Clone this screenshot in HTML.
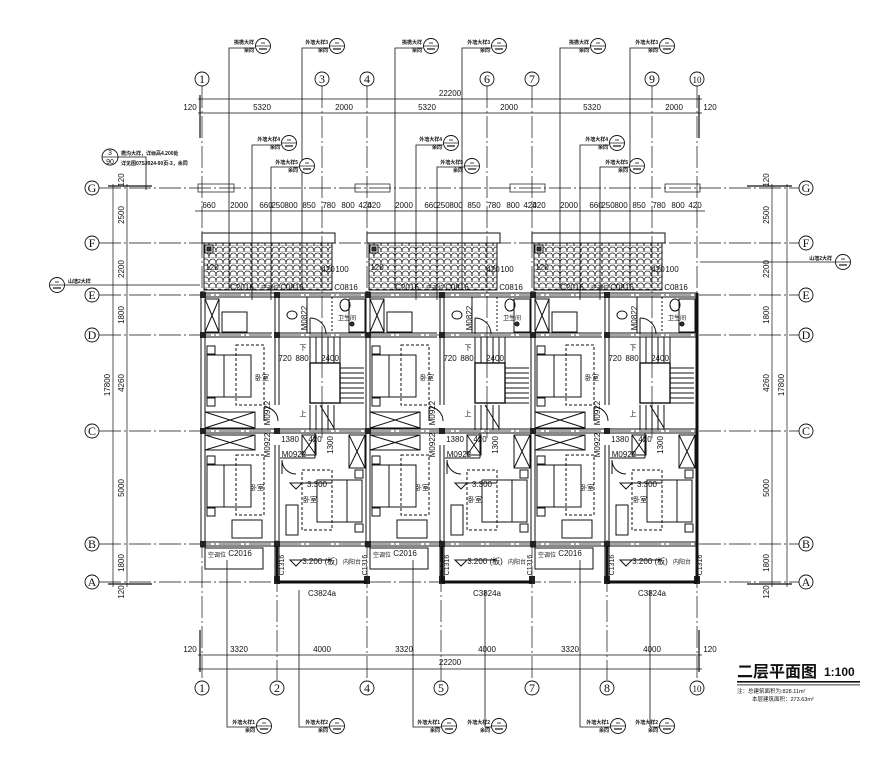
<!DOCTYPE html>
<html><head><meta charset="utf-8"><style>
html,body{margin:0;padding:0;background:#fff;}
svg{display:block;font-family:"Liberation Sans","Noto Sans CJK SC",sans-serif;}
</style></head><body>
<svg width="896" height="759" viewBox="0 0 896 759" xmlns="http://www.w3.org/2000/svg">
<defs>
<pattern id="tile" width="7" height="6" patternUnits="userSpaceOnUse">
<path d="M0 6 Q0 1 3.5 1 Q7 1 7 6" fill="none" stroke="#222" stroke-width="0.7"/>
<line x1="0" y1="6" x2="7" y2="6" stroke="#222" stroke-width="0.5"/>
</pattern>
<g id="unit" stroke="#111" fill="none" stroke-width="1">
  <rect x="0" y="233" width="133" height="10" />
  <rect x="2" y="243" width="128" height="47" fill="url(#tile)"/>
  <rect x="3" y="245" width="8" height="8" fill="#fff"/>
  <rect x="5" y="247" width="4" height="4" fill="#333"/>
  <rect x="-1" y="292" width="4" height="255" fill="#fff"/>
  <line x1="0" y1="293" x2="165" y2="293"/><line x1="0" y1="297" x2="165" y2="297"/>
  <line x1="0" y1="429" x2="165" y2="429"/><line x1="0" y1="433" x2="165" y2="433"/>
  <line x1="0" y1="542" x2="165" y2="542"/><line x1="0" y1="546" x2="165" y2="546"/>
  <line x1="3" y1="333" x2="70" y2="333"/><line x1="3" y1="337" x2="70" y2="337"/>
  <line x1="78" y1="333" x2="165" y2="333"/><line x1="78" y1="337" x2="165" y2="337"/>
  <line x1="73" y1="297" x2="73" y2="405"/><line x1="77" y1="297" x2="77" y2="405"/>
  <line x1="73" y1="445" x2="73" y2="582"/><line x1="77" y1="445" x2="77" y2="582"/>
  <line x1="105" y1="297" x2="105" y2="333" />
  <line x1="130" y1="297" x2="130" y2="333" stroke-dasharray="2 2"/>
  <g fill="#222" stroke="none">
   <rect x="-2" y="292" width="6" height="6"/><rect x="-2" y="332" width="6" height="6"/>
   <rect x="-2" y="428" width="6" height="6"/><rect x="-2" y="541" width="6" height="6"/>
   <rect x="72" y="292" width="6" height="6"/><rect x="72" y="332" width="6" height="6"/>
   <rect x="72" y="428" width="6" height="6"/><rect x="72" y="541" width="6" height="6"/>
   <rect x="72" y="576" width="6" height="8"/><rect x="162" y="576" width="6" height="8"/>
  </g>
  <line x1="75" y1="582" x2="165" y2="582" stroke-width="3"/>
  <line x1="75" y1="546" x2="75" y2="582" stroke-width="2.5"/>
  <rect x="3" y="548" width="58" height="21"/>
  <rect x="3" y="299" width="14" height="33"/><path d="M3 299 L17 332 M17 299 L3 332"/>
  <rect x="3" y="412" width="50" height="16"/><path d="M3 412 L53 428 M53 412 L3 428"/>
  <rect x="3" y="435" width="50" height="15"/><path d="M3 435 L53 450 M53 435 L3 450"/>
  <rect x="147" y="299" width="16" height="33"/>
  <rect x="147" y="435" width="16" height="33"/><path d="M147 435 L163 468 M163 435 L147 468"/>
  <rect x="20" y="312" width="25" height="20"/>
  <rect x="5" y="355" width="44" height="42"/><line x1="22" y1="355" x2="22" y2="397"/>
  <rect x="34" y="345" width="28" height="60" stroke-dasharray="3 2"/>
  <rect x="5" y="346" width="8" height="8"/><rect x="5" y="398" width="8" height="8"/>
  <rect x="5" y="465" width="44" height="42"/><line x1="22" y1="465" x2="22" y2="507"/>
  <rect x="34" y="455" width="28" height="60" stroke-dasharray="3 2"/>
  <rect x="5" y="456" width="8" height="8"/><rect x="5" y="508" width="8" height="8"/>
  <rect x="30" y="520" width="30" height="18"/>
  <rect x="115" y="480" width="45" height="42"/><line x1="145" y1="480" x2="145" y2="522"/>
  <rect x="100" y="470" width="30" height="60" stroke-dasharray="3 2"/>
  <rect x="153" y="470" width="8" height="8"/><rect x="153" y="524" width="8" height="8"/>
  <rect x="84" y="505" width="12" height="30"/>
  <rect x="108" y="363" width="30" height="40" stroke-width="1.4"/>
  <path d="M108 337 V363 M114 337 V363 M120 337 V363 M126 337 V363 M132 337 V363 M138 337 V363"/>
  <path d="M138 368 H162 M138 373 H162 M138 378 H162 M138 383 H162 M138 388 H162 M138 393 H162 M138 398 H162 M138 403 H162"/>
  <path d="M108 405 V430 M114 405 V430 M120 405 V430 M126 405 V430 M132 405 V430"/>
  <line x1="118" y1="405" x2="132" y2="428"/>
  <rect x="100" y="435" width="14" height="20"/>
  <path d="M100 435 L114 455 M114 435 L100 455"/>
  <line x1="78" y1="458" x2="113" y2="458"/><line x1="113" y1="433" x2="113" y2="458"/>
  <path d="M62 407 A14 14 0 0 1 76 421" /><line x1="62" y1="407" x2="62" y2="421"/>
  <path d="M80 460 A14 14 0 0 0 94 474"/><line x1="80" y1="460" x2="80" y2="474"/>
  <path d="M108 318 A16 16 0 0 1 124 334"/><line x1="108" y1="318" x2="108" y2="334"/>
  <ellipse cx="90" cy="315" rx="5" ry="4"/><ellipse cx="143" cy="305" rx="5" ry="6"/>
  <circle cx="150" cy="324" r="2" fill="#333"/>
  <path d="M88 483 L100 483 L94 489 Z"/><path d="M88 560 L100 560 L94 566 Z"/>
  <line x1="94" y1="483" x2="130" y2="483"/><line x1="94" y1="560" x2="130" y2="560"/>
</g>
<g id="cc"><circle r="7.5" fill="#fff" stroke="#111" stroke-width="0.9"/><line x1="-7.5" y1="0" x2="7.5" y2="0" stroke="#111" stroke-width="0.7"/><line x1="-2" y1="-3" x2="2" y2="-3" stroke="#111" stroke-width="0.8"/><line x1="-4" y1="3" x2="4" y2="3" stroke="#111" stroke-width="1.2"/></g>
</defs>

<g stroke="#111" stroke-width="0.7" fill="none">
  <g stroke-dasharray="22 3 2 3">
   <line x1="202" y1="86" x2="202" y2="680"/><line x1="277" y1="540" x2="277" y2="680"/>
   <line x1="322" y1="86" x2="322" y2="440"/><line x1="367" y1="86" x2="367" y2="680"/>
   <line x1="441" y1="540" x2="441" y2="680"/><line x1="487" y1="86" x2="487" y2="440"/>
   <line x1="532" y1="86" x2="532" y2="680"/><line x1="607" y1="540" x2="607" y2="680"/>
   <line x1="652" y1="86" x2="652" y2="440"/><line x1="697" y1="86" x2="697" y2="680"/>
  </g>
  <g stroke-dasharray="22 3 2 3">
   <line x1="99" y1="188" x2="799" y2="188"/><line x1="99" y1="243" x2="799" y2="243"/>
   <line x1="99" y1="295" x2="799" y2="295"/><line x1="99" y1="335" x2="799" y2="335"/>
   <line x1="99" y1="431" x2="799" y2="431"/><line x1="99" y1="544" x2="799" y2="544"/>
   <line x1="99" y1="582" x2="799" y2="582"/>
  </g>
  <line x1="198" y1="99" x2="702" y2="99"/><line x1="198" y1="113" x2="702" y2="113"/>
  <line x1="200" y1="95" x2="200" y2="138" stroke-width="1.2"/><line x1="699" y1="95" x2="699" y2="138" stroke-width="1.2"/>
  <line x1="198" y1="655" x2="702" y2="655"/><line x1="198" y1="669" x2="702" y2="669"/>
  <line x1="200" y1="630" x2="200" y2="672" stroke-width="1.2"/><line x1="699" y1="630" x2="699" y2="672" stroke-width="1.2"/>
  <line x1="113" y1="184" x2="113" y2="587"/><line x1="127" y1="184" x2="127" y2="587"/>
  <line x1="108" y1="186" x2="152" y2="186" stroke-width="1.2"/><line x1="108" y1="584" x2="152" y2="584" stroke-width="1.2"/>
  <line x1="772" y1="184" x2="772" y2="587"/><line x1="787" y1="184" x2="787" y2="587"/>
  <line x1="747" y1="186" x2="792" y2="186" stroke-width="1.2"/><line x1="747" y1="584" x2="792" y2="584" stroke-width="1.2"/>
  <line x1="195" y1="211" x2="705" y2="211"/>
  <rect x="198" y="184" width="36" height="8"/><rect x="355" y="184" width="35" height="8"/>
  <rect x="510" y="184" width="35" height="8"/><rect x="665" y="184" width="35" height="8"/>
</g>

<use href="#unit" x="202"/>
<use href="#unit" x="367"/>
<use href="#unit" x="532"/>
<g stroke="#111" fill="none"><line x1="697" y1="293" x2="697" y2="582" stroke-width="3"/></g>

<g stroke="#111" stroke-width="0.9" fill="#fff" font-size="12" text-anchor="middle">
 <g>
  <circle cx="202" cy="79" r="7"/><circle cx="322" cy="79" r="7"/><circle cx="367" cy="79" r="7"/>
  <circle cx="487" cy="79" r="7"/><circle cx="532" cy="79" r="7"/><circle cx="652" cy="79" r="7"/><circle cx="697" cy="79" r="7"/>
  <circle cx="202" cy="688" r="7"/><circle cx="277" cy="688" r="7"/><circle cx="367" cy="688" r="7"/>
  <circle cx="441" cy="688" r="7"/><circle cx="532" cy="688" r="7"/><circle cx="607" cy="688" r="7"/><circle cx="697" cy="688" r="7"/>
  <circle cx="92" cy="188" r="7"/><circle cx="92" cy="243" r="7"/><circle cx="92" cy="295" r="7"/><circle cx="92" cy="335" r="7"/>
  <circle cx="92" cy="431" r="7"/><circle cx="92" cy="544" r="7"/><circle cx="92" cy="582" r="7"/>
  <circle cx="806" cy="188" r="7"/><circle cx="806" cy="243" r="7"/><circle cx="806" cy="295" r="7"/><circle cx="806" cy="335" r="7"/>
  <circle cx="806" cy="431" r="7"/><circle cx="806" cy="544" r="7"/><circle cx="806" cy="582" r="7"/>
 </g>
 <g fill="#111" stroke="none" font-family="Liberation Serif, serif">
  <text x="202" y="83">1</text><text x="322" y="83">3</text><text x="367" y="83">4</text><text x="487" y="83">6</text>
  <text x="532" y="83">7</text><text x="652" y="83">9</text><text x="697" y="83" font-size="9">10</text>
  <text x="202" y="692">1</text><text x="277" y="692">2</text><text x="367" y="692">4</text><text x="441" y="692">5</text>
  <text x="532" y="692">7</text><text x="607" y="692">8</text><text x="697" y="692" font-size="9">10</text>
  <text x="92" y="192">G</text><text x="92" y="247">F</text><text x="92" y="299">E</text><text x="92" y="339">D</text>
  <text x="92" y="435">C</text><text x="92" y="548">B</text><text x="92" y="586">A</text>
  <text x="806" y="192">G</text><text x="806" y="247">F</text><text x="806" y="299">E</text><text x="806" y="339">D</text>
  <text x="806" y="435">C</text><text x="806" y="548">B</text><text x="806" y="586">A</text>
 </g>
</g>

<g font-size="8" fill="#111" text-anchor="middle">
 <text x="450" y="96">22200</text><text x="450" y="665">22200</text>
 <text x="190" y="110">120</text><text x="262" y="110">5320</text><text x="344" y="110">2000</text><text x="427" y="110">5320</text>
 <text x="509" y="110">2000</text><text x="592" y="110">5320</text><text x="674" y="110">2000</text><text x="710" y="110">120</text>
 <text x="190" y="652">120</text><text x="239" y="652">3320</text><text x="322" y="652">4000</text><text x="404" y="652">3320</text>
 <text x="487" y="652">4000</text><text x="570" y="652">3320</text><text x="652" y="652">4000</text><text x="710" y="652">120</text>
 <g transform="translate(110,385) rotate(-90)"><text>17800</text></g>
 <g transform="translate(124,180) rotate(-90)"><text>120</text></g>
 <g transform="translate(124,215) rotate(-90)"><text>2500</text></g>
 <g transform="translate(124,269) rotate(-90)"><text>2200</text></g>
 <g transform="translate(124,315) rotate(-90)"><text>1800</text></g>
 <g transform="translate(124,383) rotate(-90)"><text>4260</text></g>
 <g transform="translate(124,488) rotate(-90)"><text>5000</text></g>
 <g transform="translate(124,563) rotate(-90)"><text>1800</text></g>
 <g transform="translate(124,592) rotate(-90)"><text>120</text></g>
 <g transform="translate(784,385) rotate(-90)"><text>17800</text></g>
 <g transform="translate(769,180) rotate(-90)"><text>120</text></g>
 <g transform="translate(769,215) rotate(-90)"><text>2500</text></g>
 <g transform="translate(769,269) rotate(-90)"><text>2200</text></g>
 <g transform="translate(769,315) rotate(-90)"><text>1800</text></g>
 <g transform="translate(769,383) rotate(-90)"><text>4260</text></g>
 <g transform="translate(769,488) rotate(-90)"><text>5000</text></g>
 <g transform="translate(769,563) rotate(-90)"><text>1800</text></g>
 <g transform="translate(769,592) rotate(-90)"><text>120</text></g>
</g>

<g font-size="8" fill="#111" text-anchor="middle">
 <g transform="translate(202,0)">
  <text x="7" y="208">660</text><text x="37" y="208">2000</text><text x="64" y="208">660</text><text x="76" y="208">250</text><text x="89" y="208">800</text>
  <text x="107" y="208">850</text><text x="127" y="208">780</text><text x="146" y="208">800</text><text x="163" y="208">420</text>
  <text x="40" y="290">C2016</text><text x="68" y="290" font-size="6">空调位</text><text x="90" y="290">C0816</text><text x="144" y="290">C0816</text>
  <text x="10" y="270">120</text><text x="126" y="272">420</text><text x="140" y="272">100</text>
  <text x="145" y="320" font-size="6">卫生间</text>
  <g transform="translate(105,318) rotate(-90)"><text>M0822</text></g>
  <text x="101" y="350" font-size="7">下</text>
  <text x="83" y="361">720</text><text x="100" y="361">880</text><text x="128" y="361">2400</text>
  <text x="101" y="416" font-size="7">上</text>
  <text x="60" y="380" font-size="7">卧室</text><text x="55" y="490" font-size="7">卧室</text><text x="108" y="502" font-size="7">卧室</text>
  <g transform="translate(68,413) rotate(-90)"><text>M0922</text></g>
  <g transform="translate(68,445) rotate(-90)"><text>M0922</text></g>
  <text x="88" y="442">1380</text><text x="113" y="442">420</text>
  <g transform="translate(131,445) rotate(-90)"><text>1300</text></g>
  <text x="92" y="457">M0922</text>
  <text x="115" y="487">3.300</text>
  <text x="118" y="564">3.200 (板)</text><text x="150" y="564" font-size="6">内阳台</text>
  <text x="38" y="556">C2016</text><text x="15" y="557" font-size="6">空调位</text>
  <g transform="translate(82,565) rotate(-90)"><text font-size="7">C1316</text></g>
  <text x="120" y="596">C3824a</text>
 </g>
 <g transform="translate(367,0)">
  <text x="7" y="208">420</text><text x="37" y="208">2000</text><text x="64" y="208">660</text><text x="76" y="208">250</text><text x="89" y="208">800</text>
  <text x="107" y="208">850</text><text x="127" y="208">780</text><text x="146" y="208">800</text><text x="163" y="208">420</text>
  <text x="40" y="290">C2016</text><text x="68" y="290" font-size="6">空调位</text><text x="90" y="290">C0816</text><text x="144" y="290">C0816</text>
  <text x="10" y="270">120</text><text x="126" y="272">420</text><text x="140" y="272">100</text>
  <text x="145" y="320" font-size="6">卫生间</text>
  <g transform="translate(105,318) rotate(-90)"><text>M0822</text></g>
  <text x="101" y="350" font-size="7">下</text>
  <text x="83" y="361">720</text><text x="100" y="361">880</text><text x="128" y="361">2400</text>
  <text x="101" y="416" font-size="7">上</text>
  <text x="60" y="380" font-size="7">卧室</text><text x="55" y="490" font-size="7">卧室</text><text x="108" y="502" font-size="7">卧室</text>
  <g transform="translate(68,413) rotate(-90)"><text>M0922</text></g>
  <g transform="translate(68,445) rotate(-90)"><text>M0922</text></g>
  <text x="88" y="442">1380</text><text x="113" y="442">420</text>
  <g transform="translate(131,445) rotate(-90)"><text>1300</text></g>
  <text x="92" y="457">M0922</text>
  <text x="115" y="487">3.300</text>
  <text x="118" y="564">3.200 (板)</text><text x="150" y="564" font-size="6">内阳台</text>
  <text x="38" y="556">C2016</text><text x="15" y="557" font-size="6">空调位</text>
  <g transform="translate(82,565) rotate(-90)"><text font-size="7">C1316</text></g>
  <g transform="translate(0,565) rotate(-90)"><text font-size="7">C1316</text></g>
  <text x="120" y="596">C3824a</text>
 </g>
 <g transform="translate(532,0)">
  <text x="7" y="208">420</text><text x="37" y="208">2000</text><text x="64" y="208">660</text><text x="76" y="208">250</text><text x="89" y="208">800</text>
  <text x="107" y="208">850</text><text x="127" y="208">780</text><text x="146" y="208">800</text><text x="163" y="208">420</text>
  <text x="40" y="290">C2016</text><text x="68" y="290" font-size="6">空调位</text><text x="90" y="290">C0816</text><text x="144" y="290">C0816</text>
  <text x="10" y="270">120</text><text x="126" y="272">420</text><text x="140" y="272">100</text>
  <text x="145" y="320" font-size="6">卫生间</text>
  <g transform="translate(105,318) rotate(-90)"><text>M0822</text></g>
  <text x="101" y="350" font-size="7">下</text>
  <text x="83" y="361">720</text><text x="100" y="361">880</text><text x="128" y="361">2400</text>
  <text x="101" y="416" font-size="7">上</text>
  <text x="60" y="380" font-size="7">卧室</text><text x="55" y="490" font-size="7">卧室</text><text x="108" y="502" font-size="7">卧室</text>
  <g transform="translate(68,413) rotate(-90)"><text>M0922</text></g>
  <g transform="translate(68,445) rotate(-90)"><text>M0922</text></g>
  <text x="88" y="442">1380</text><text x="113" y="442">420</text>
  <g transform="translate(131,445) rotate(-90)"><text>1300</text></g>
  <text x="92" y="457">M0922</text>
  <text x="115" y="487">3.300</text>
  <text x="118" y="564">3.200 (板)</text><text x="150" y="564" font-size="6">内阳台</text>
  <text x="38" y="556">C2016</text><text x="15" y="557" font-size="6">空调位</text>
  <g transform="translate(82,565) rotate(-90)"><text font-size="7">C1316</text></g>
  <g transform="translate(0,565) rotate(-90)"><text font-size="7">C1316</text></g>
  <g transform="translate(170,565) rotate(-90)"><text font-size="7">C1316</text></g>
  <text x="120" y="596">C3824a</text>
 </g>
</g>

<g stroke="#111" stroke-width="0.8" fill="none">
 <path d="M229 290 V48 H255"/><path d="M302 290 V48 H329"/>
 <path d="M395 290 V48 H423"/><path d="M462 290 V48 H491"/>
 <path d="M560 290 V48 H590"/><path d="M630 290 V48 H659"/>
 <path d="M252 300 V145 H281"/><path d="M271 300 V167 H299"/>
 <path d="M416 300 V145 H443"/><path d="M437 300 V167 H464"/>
 <path d="M580 300 V145 H609"/><path d="M600 300 V167 H629"/>
 <path d="M227 560 V727 H256"/><path d="M299 590 V727 H329"/>
 <path d="M413 560 V727 H441"/><path d="M485 590 V727 H491"/>
 <path d="M580 560 V727 H610"/><path d="M650 590 V727 H659"/>
 <path d="M118 157 H146 V190"/>
 <path d="M65 285 H200"/><path d="M700 262 H835"/>
</g>
<use href="#cc" x="263" y="46"/><use href="#cc" x="337" y="46"/><use href="#cc" x="431" y="46"/>
<use href="#cc" x="499" y="46"/><use href="#cc" x="598" y="46"/><use href="#cc" x="667" y="46"/>
<use href="#cc" x="289" y="143"/><use href="#cc" x="307" y="166"/><use href="#cc" x="451" y="143"/>
<use href="#cc" x="472" y="166"/><use href="#cc" x="617" y="143"/><use href="#cc" x="637" y="166"/>
<use href="#cc" x="264" y="726"/><use href="#cc" x="337" y="726"/><use href="#cc" x="449" y="726"/>
<use href="#cc" x="499" y="726"/><use href="#cc" x="618" y="726"/><use href="#cc" x="667" y="726"/>
<use href="#cc" x="57" y="285"/><use href="#cc" x="843" y="262"/>
<circle cx="110" cy="157" r="8" fill="#fff" stroke="#111" stroke-width="0.9"/>
<line x1="102" y1="157" x2="118" y2="157" stroke="#111" stroke-width="0.7"/>
<g font-size="5" fill="#111" text-anchor="end" font-weight="bold">
 <text x="254" y="44">挑檐大样</text><text x="254" y="52">余同</text><text x="328" y="44">外墙大样3</text><text x="328" y="52">余同</text>
 <text x="422" y="44">挑檐大样</text><text x="422" y="52">余同</text><text x="490" y="44">外墙大样3</text><text x="490" y="52">余同</text>
 <text x="589" y="44">挑檐大样</text><text x="589" y="52">余同</text><text x="658" y="44">外墙大样3</text><text x="658" y="52">余同</text>
 <text x="280" y="141">外墙大样4</text><text x="280" y="149">余同</text><text x="298" y="164">外墙大样5</text><text x="298" y="172">余同</text>
 <text x="442" y="141">外墙大样4</text><text x="442" y="149">余同</text><text x="463" y="164">外墙大样5</text><text x="463" y="172">余同</text>
 <text x="608" y="141">外墙大样4</text><text x="608" y="149">余同</text><text x="628" y="164">外墙大样5</text><text x="628" y="172">余同</text>
 <text x="255" y="724">外墙大样1</text><text x="255" y="732">余同</text><text x="328" y="724">外墙大样2</text><text x="328" y="732">余同</text>
 <text x="440" y="724">外墙大样1</text><text x="440" y="732">余同</text><text x="490" y="724">外墙大样2</text><text x="490" y="732">余同</text>
 <text x="609" y="724">外墙大样1</text><text x="609" y="732">余同</text><text x="658" y="724">外墙大样2</text><text x="658" y="732">余同</text>
 <text x="832" y="260">山墙2大样</text>
 <text x="68" y="283" text-anchor="start">山墙2大样</text>
 <text x="121" y="155" text-anchor="start">檐沟大样，详标高4.200处</text>
 <text x="121" y="165" text-anchor="start">详见图07SJ924-90页-3，余同</text>
</g>
<g font-size="7" fill="#111" text-anchor="middle"><text x="110" y="155">3</text><text x="110" y="164">90</text></g>

<g fill="#111">
 <text x="737" y="677" font-size="16" font-weight="bold">二层平面图</text>
 <text x="824" y="676" font-size="12" font-weight="bold">1:100</text>
 <rect x="737" y="681" width="123" height="1.6"/><rect x="737" y="684.5" width="123" height="0.8"/>
 <text x="737" y="693" font-size="5.5">注：总建筑面积为:828.11m²</text>
 <text x="752" y="701" font-size="5.5">本层建筑面积：273.63m²</text>
</g>
</svg>
</body></html>
